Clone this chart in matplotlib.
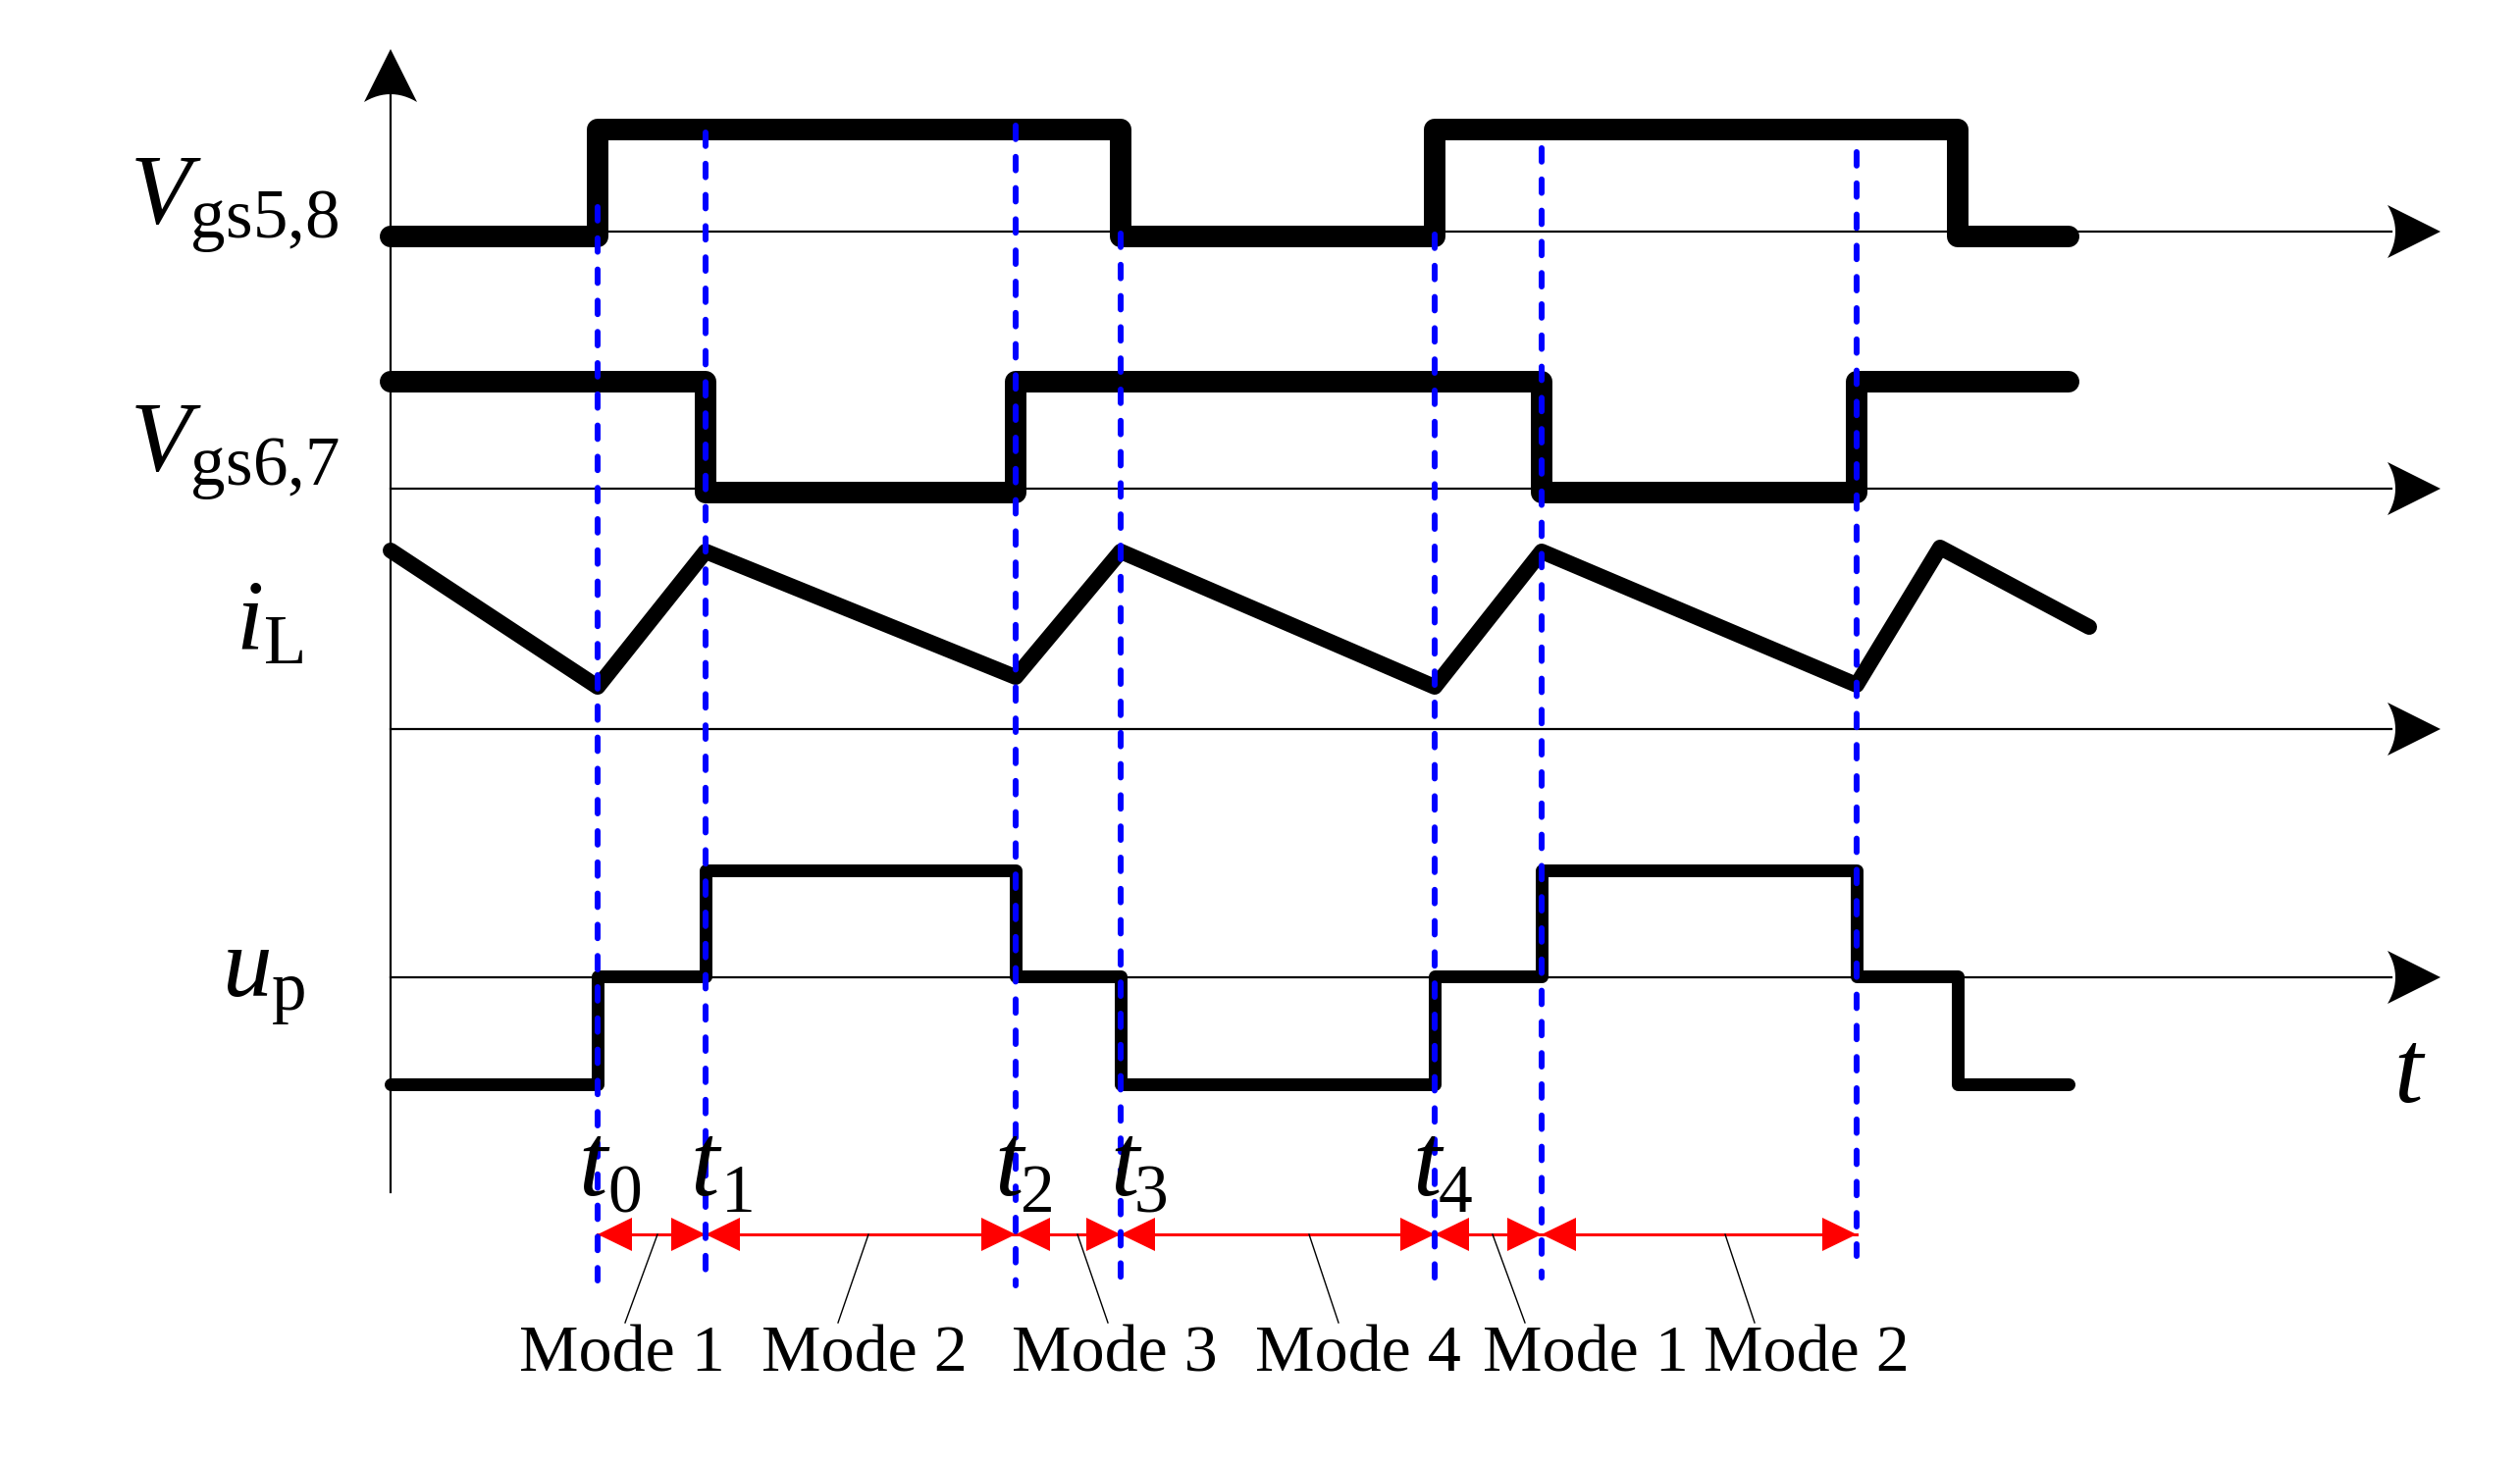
import numpy as np
import matplotlib.pyplot as plt
from matplotlib.patches import Polygon

plt.rcParams['font.family'] = ['Liberation Serif', 'DejaVu Serif']
plt.rcParams['mathtext.fontset'] = 'custom'
plt.rcParams['mathtext.rm'] = 'Liberation Serif'
plt.rcParams['mathtext.it'] = 'Liberation Serif:italic'

W, H = 2568, 1491
PT = 72 / 100.0   # pixel -> point at dpi 100

# ---- diagram data (pixel units of the drawing) ----
t_marks = [609, 719, 1035, 1142, 1462, 1571, 1892]      # t0 .. t6
x_start, x_end = 398, 2108

vgs58_edges = [x_start, 609, 1142, 1462, 1995, x_end]
vgs58_state = [0, 1, 0, 1, 0]
vgs58_level = {0: 241, 1: 132}

vgs67_edges = [x_start, 719, 1035, 1571, 1892, x_end]
vgs67_state = [1, 0, 1, 0, 1]
vgs67_level = {0: 502, 1: 389}

il_x = [398, 609, 719, 1035, 1142, 1462, 1571, 1892, 1977, 2129]
il_y = [561, 700, 562, 690, 562, 700, 562, 698, 558, 639]

up_edges = [x_start, 609, 719, 1035, 1142, 1462, 1571, 1892, 1995, x_end]
up_state = [-1, 0, 1, 0, -1, 0, 1, 0, -1]
up_level = {1: 887, 0: 995, -1: 1105}

axis_y = [236, 498, 743, 996]
axis_tip = 2487

dash_top = [211, 135, 128, 238, 239, 151, 155]
dash_bot = [1305, 1295, 1310, 1302, 1302, 1302, 1280]

mode_names = ['Mode 1', 'Mode 2', 'Mode 3', 'Mode 4', 'Mode 1', 'Mode 2']
mode_x = [634, 881, 1136, 1384, 1616, 1841]
leader_top = [670, 885, 1098, 1334, 1521, 1758]
leader_bot = [637, 854, 1129, 1364, 1554, 1788]

t_names = ['0', '1', '2', '3', '4']
t_lab_x = [589, 703, 1013, 1131, 1439]
t_sub_x = [619, 735, 1040, 1156, 1466]

sig_names = [r'$V_{\mathrm{gs5{,}8}}$', r'$V_{\mathrm{gs6{,}7}}$',
             r'$i_{\mathrm{L}}$', r'$u_{\mathrm{p}}$']
sig_xy = [(132, 228), (132, 480), (240, 663), (226, 1015)]


def step_xy(edges, states, level):
    xs, ys = [], []
    for i, s in enumerate(states):
        xs += [edges[i], edges[i + 1]]
        ys += [level[s], level[s]]
    return xs, ys


def arrow_head(ax, tip, fwd, length=54, half=27, notch=8):
    s = np.linspace(-1, 1, 15)
    u = np.concatenate([[0], -length + notch * (1 - s ** 2), [0]])
    v = np.concatenate([[0], half * s, [0]])
    perp = (-fwd[1], fwd[0])
    px = tip[0] + u * fwd[0] + v * perp[0]
    py = tip[1] + u * fwd[1] + v * perp[1]
    ax.add_patch(Polygon(np.column_stack([px, py]), closed=True,
                         facecolor='black', edgecolor='none', zorder=3))


fig = plt.figure(figsize=(W / 100, H / 100), dpi=100)
ax = fig.add_axes([0, 0, 1, 1])
ax.set_xlim(0, W)
ax.set_ylim(H, 0)
ax.axis('off')

# axes
ax.plot([x_start, x_start], [1215, 95], color='black', lw=2.2 * PT, zorder=2)
arrow_head(ax, (x_start, 50), (0, -1))
for y in axis_y:
    ax.plot([x_start, axis_tip - 50], [y, y], color='black', lw=2.2 * PT, zorder=2)
    arrow_head(ax, (axis_tip, y), (1, 0))

# waveforms
style = dict(color='black', solid_capstyle='round', solid_joinstyle='round', zorder=4)
xs, ys = step_xy(vgs58_edges, vgs58_state, vgs58_level)
ax.plot(xs, ys, lw=22 * PT, **style)
xs, ys = step_xy(vgs67_edges, vgs67_state, vgs67_level)
ax.plot(xs, ys, lw=22 * PT, **style)
ax.plot(il_x, il_y, lw=16 * PT, **style)
xs, ys = step_xy(up_edges, up_state, up_level)
ax.plot(xs, ys, lw=13 * PT, **style)

# mode interval arrows
arr_y = 1258
head_len, head_half = 35, 17
for a, b in zip(t_marks[:-1], t_marks[1:]):
    ax.plot([a, b], [arr_y, arr_y], color='red', lw=3 * PT, zorder=5)
    ax.add_patch(Polygon([[a, arr_y], [a + head_len, arr_y - head_half],
                          [a + head_len, arr_y + head_half]],
                         facecolor='red', edgecolor='none', zorder=5))
    ax.add_patch(Polygon([[b, arr_y], [b - head_len, arr_y - head_half],
                          [b - head_len, arr_y + head_half]],
                         facecolor='red', edgecolor='none', zorder=5))

# blue dashed time markers
for x, y0, y1 in zip(t_marks, dash_top, dash_bot):
    ax.plot([x, x], [y0, y1], color='#0000ff', lw=6 * PT,
            ls=(0, (2.3, 3.0)), dash_capstyle='round', zorder=6)

# leader lines and mode labels
for xt, xb, xm, name in zip(leader_top, leader_bot, mode_x, mode_names):
    ax.plot([xt, xb], [arr_y, 1348], color='black', lw=1.4 * PT, zorder=5)
    ax.text(xm, 1397, name, fontsize=49, ha='center', va='baseline', zorder=7)

# t labels
for xl, xs_, n in zip(t_lab_x, t_sub_x, t_names):
    ax.text(xl, 1218, 't', fontsize=76, style='italic', ha='left', va='baseline', zorder=7)
    ax.text(xs_, 1235, n, fontsize=50, ha='left', va='baseline', zorder=7)
ax.text(2439, 1123, 't', fontsize=76, style='italic', ha='left', va='baseline')

# signal names
for name, (mx, my) in zip(sig_names, sig_xy):
    ax.text(mx, my, name, fontsize=73, ha='left', va='baseline')

fig.savefig('out.png', dpi=100, facecolor='white')
